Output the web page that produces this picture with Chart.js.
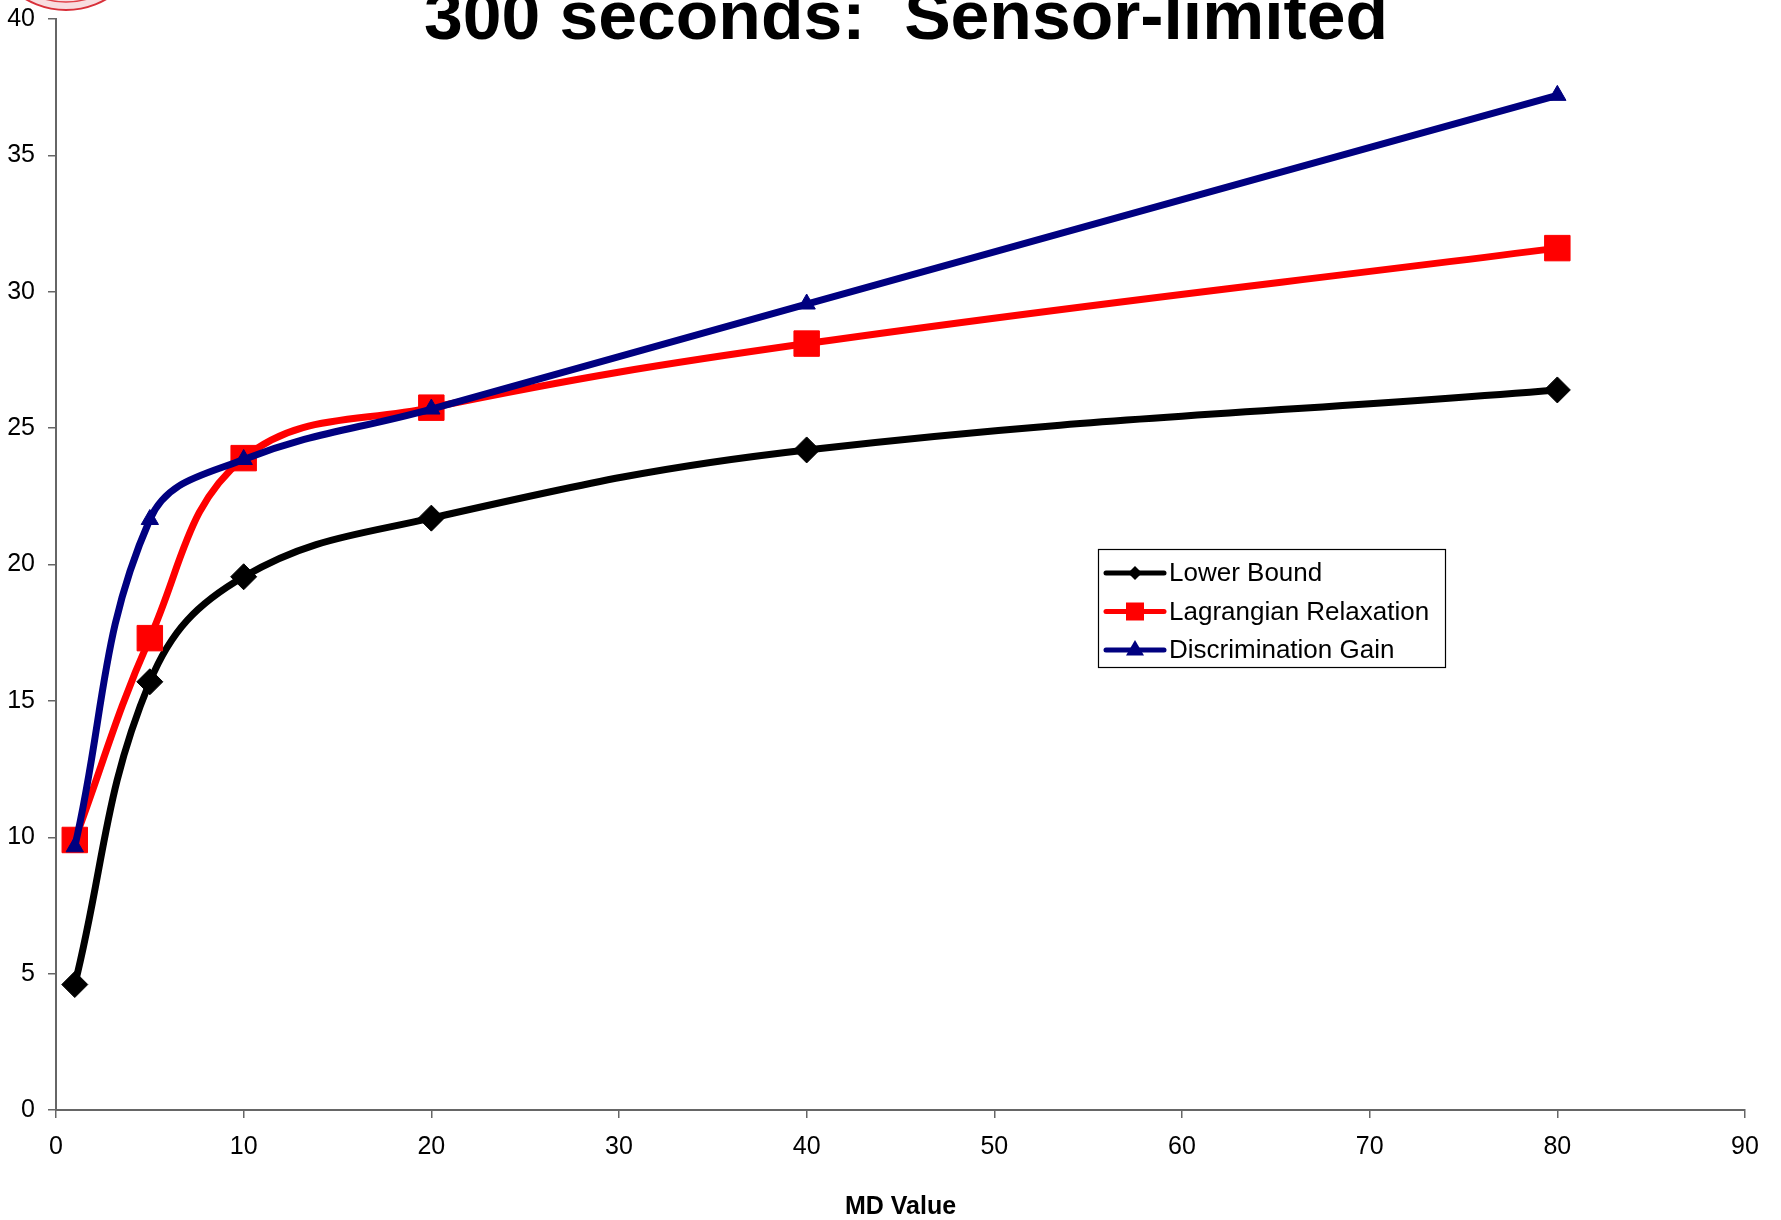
<!DOCTYPE html>
<html>
<head>
<meta charset="utf-8">
<title>300 seconds: Sensor-limited</title>
<script src="https://cdn.jsdelivr.net/npm/chart.js@4.4.0/dist/chart.umd.min.js"></script>
<style>
  html, body { margin: 0; padding: 0; background: #fff; }
  #wrap { position: relative; width: 1781px; height: 1220px; }
</style>
</head>
<body>
<div id="wrap"><canvas id="myChart"></canvas></div>
<script>
// data
var mdValues = [1, 5, 10, 20, 40, 80];
var lowerBound = [4.6, 15.7, 19.55, 21.7, 24.2, 26.4];
var lagrangian = [9.9, 17.3, 23.9, 25.75, 28.1, 31.6];
var discrimination = [9.65, 21.65, 23.85, 25.7, 29.55, 37.2];
var seriesNames = ['Lower Bound', 'Lagrangian Relaxation', 'Discrimination Gain'];
var xTickValues = [0, 10, 20, 30, 40, 50, 60, 70, 80, 90];
var yTickValues = [0, 5, 10, 15, 20, 25, 30, 35, 40];
var titleText = '300 seconds:  Sensor-limited';
var xAxisTitle = 'MD Value';

var FONT = '"Liberation Sans", Arial, sans-serif';

function points(ys) {
  var out = [];
  for (var i = 0; i < mdValues.length; i++) {
    out.push({ x: mdValues[i], y: ys[i] });
  }
  return out;
}

function marker(ctx, style, x, y, r) {
  ctx.beginPath();
  if (style == 'rectRot') {
    ctx.moveTo(x, y - r); ctx.lineTo(x + r, y); ctx.lineTo(x, y + r); ctx.lineTo(x - r, y);
  } else if (style == 'rect') {
    ctx.rect(x - r, y - r, 2 * r, 2 * r);
  } else {
    ctx.moveTo(x, y - r * 1.1); ctx.lineTo(x + r, y + r * 0.6); ctx.lineTo(x - r, y + r * 0.6);
  }
  ctx.closePath();
  ctx.fill();
}

// title (cut off at the top like the slide) and the red seal
var slideDecor = {
  id: 'slideDecor',
  afterDraw: function(chart) {
    var ctx = chart.ctx;
    ctx.save();
    // seal peeking from the top edge
    ctx.fillStyle = '#f8dde0';
    ctx.beginPath(); ctx.arc(66, -70, 80, 0, Math.PI); ctx.fill();
    ctx.strokeStyle = '#d8303a';
    ctx.lineWidth = 2;
    ctx.beginPath(); ctx.arc(66, -70, 80, 0, Math.PI); ctx.stroke();
    ctx.strokeStyle = '#e04048'; ctx.lineWidth = 1.5;
    ctx.beginPath(); ctx.arc(66, -70, 72, 0, Math.PI); ctx.stroke();

    // title, squeezed like a narrow face
    ctx.font = 'bold 62px "Liberation Sans Narrow", "Arial Narrow", ' + FONT;
    ctx.fillStyle = '#000';
    ctx.textBaseline = 'alphabetic';
    ctx.textAlign = 'left';
    var w = ctx.measureText(titleText).width;
    var targetW = 964;
    var sx = targetW / w;
    ctx.translate(906 - targetW / 2, 39);
    ctx.scale(sx, 1.12);
    ctx.fillText(titleText, 0, 0);
    ctx.restore();
  }
};

// legend box inside the plot, like the original
var legendBox = {
  id: 'legendBox',
  afterDraw: function(chart) {
    var ctx = chart.ctx;
    ctx.save();
    ctx.fillStyle = '#fff';
    ctx.fillRect(1098, 549, 347, 118);
    ctx.strokeStyle = '#000';
    ctx.lineWidth = 1.2;
    ctx.strokeRect(1098.5, 549.5, 347, 118);
    ctx.font = '26px ' + FONT;
    ctx.textBaseline = 'middle';
    ctx.textAlign = 'left';
    var rad = [7, 9, 9];
    chart.data.datasets.forEach(function(ds, i) {
      var y = 573 + i * 38.5;
      ctx.strokeStyle = ds.borderColor;
      ctx.lineWidth = 5;
      ctx.lineCap = 'round';
      ctx.beginPath(); ctx.moveTo(1106, y); ctx.lineTo(1164, y); ctx.stroke();
      ctx.fillStyle = ds.pointBackgroundColor;
      marker(ctx, ds.pointStyle, 1135, y, rad[i]);
      ctx.fillStyle = '#000';
      ctx.fillText(ds.label, 1169, y + 1);
    });
    ctx.restore();
  }
};

var ctx = document.getElementById('myChart').getContext('2d');
var myChart = new Chart(ctx, {
  type: 'line',
  data: {
    datasets: [{
      label: seriesNames[0],
      data: points(lowerBound),
      borderColor: '#000000',
      backgroundColor: '#000000',
      pointBackgroundColor: '#000000',
      pointBorderColor: '#000000',
      pointStyle: 'rectRot',
      pointRadius: 13,
      pointBorderWidth: 1,
      borderWidth: 7,
      tension: 0.4,
      order: 3
    }, {
      label: seriesNames[1],
      data: points(lagrangian),
      borderColor: '#ff0000',
      backgroundColor: '#ff0000',
      pointBackgroundColor: '#ff0000',
      pointBorderColor: '#ff0000',
      pointStyle: 'rect',
      pointRadius: 18,
      pointBorderWidth: 1,
      borderWidth: 7,
      tension: 0.4,
      order: 2
    }, {
      label: seriesNames[2],
      data: points(discrimination),
      borderColor: '#000080',
      backgroundColor: '#000080',
      pointBackgroundColor: '#000080',
      pointBorderColor: '#000080',
      pointStyle: 'triangle',
      pointRadius: 10,
      pointBorderWidth: 1,
      borderWidth: 7,
      tension: 0.4,
      order: 1
    }]
  },
  options: {
    responsive: true,
    maintainAspectRatio: false,
    animation: false,
    layout: { padding: { top: 16, right: 36, left: 0, bottom: 0 } },
    plugins: {
      legend: { display: false },
      title: { display: false },
      tooltip: { enabled: false }
    },
    scales: {
      x: {
        type: 'linear',
        min: 0,
        max: 90,
        afterBuildTicks: function(s) { s.ticks = xTickValues.map(function(v) { return { value: v }; }); },
        afterFit: function(s) { s.height = 110; s.paddingLeft = 0; s.paddingRight = 0; },
        grid: { drawOnChartArea: false, drawTicks: true, tickLength: 8, color: '#666', lineWidth: 1.5 },
        border: { display: true, color: '#666', width: 2 },
        ticks: { color: '#000', font: { family: FONT, size: 25 }, padding: 14, maxRotation: 0, autoSkip: false },
        title: { display: true, text: xAxisTitle, color: '#000', font: { family: FONT, size: 25, weight: 'bold', lineHeight: 1 }, padding: { top: 0, bottom: 0 } }
      },
      y: {
        type: 'linear',
        min: 0,
        max: 40,
        afterBuildTicks: function(s) { s.ticks = yTickValues.map(function(v) { return { value: v }; }); },
        afterFit: function(s) { s.width = 56; s.paddingTop = 0; s.paddingBottom = 0; },
        grid: { drawOnChartArea: false, drawTicks: true, tickLength: 8, color: '#666', lineWidth: 1.5 },
        border: { display: true, color: '#666', width: 2 },
        ticks: { color: '#000', font: { family: FONT, size: 25 }, padding: 13, autoSkip: false }
      }
    }
  },
  plugins: [slideDecor, legendBox]
});
</script>
</body>
</html>
